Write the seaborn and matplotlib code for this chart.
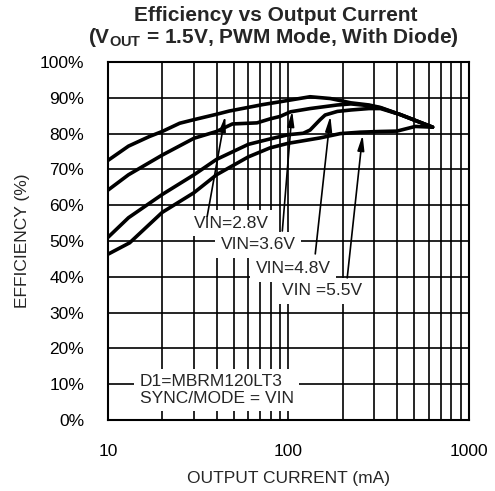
import pandas as pd
import seaborn as sns
import matplotlib.pyplot as plt

# efficiency curves (mA, %)
i_28 = [10, 13, 17, 20, 25, 30, 40, 47, 72, 90, 132, 171, 222, 280, 324, 418, 630]
e_28 = [72.5, 76.5, 79.2, 80.6, 82.9, 83.9, 85.4, 86.3, 88.1, 88.9, 90.3, 89.8, 88.6, 88.0, 87.3, 85.3, 81.8]

i_36 = [10, 13, 20, 30, 40, 49, 67, 79, 90, 103, 132, 187, 222, 280, 324, 418, 630]
e_36 = [64.2, 68.5, 74.0, 78.7, 80.6, 82.7, 83.0, 84.1, 84.8, 86.1, 87.0, 88.0, 88.3, 87.8, 87.2, 85.3, 81.8]

i_48 = [10, 13, 20, 30, 40, 60, 79, 100, 121, 132, 150, 160, 187, 222, 280, 324, 418, 630]
e_48 = [51.0, 56.5, 63.0, 68.5, 72.8, 77.0, 78.5, 79.7, 80.1, 81.0, 83.9, 85.2, 86.2, 86.6, 87.0, 87.0, 85.3, 81.8]

i_55 = [10, 13.2, 20, 30, 40, 60, 79, 100, 150, 194, 250, 324, 400, 505, 630]
e_55 = [46.3, 49.5, 58.0, 63.5, 68.5, 73.5, 76.0, 77.3, 78.8, 80.0, 80.4, 80.6, 80.7, 82.0, 81.8]

series = ['VIN=2.8V', 'VIN=3.6V', 'VIN=4.8V', 'VIN =5.5V']
currents = [i_28, i_36, i_48, i_55]
effs = [e_28, e_36, e_48, e_55]

# label text position, arrow tail, arrow tip (mA, %)
label_pos = [(48.2, 55.0), (68.1, 48.9), (106.7, 42.2), (154, 36.1)]
arrow_tail = [(35.5, 56.9), (92.6, 52.8), (141, 46.4), (212, 39.7)]
arrow_tip = [(44.7, 84.9), (105, 86.3), (171, 84.9), (258, 79.6)]

rows = []
for name, xs, ys in zip(series, currents, effs):
    for x, y in zip(xs, ys):
        rows.append({'VIN': name, 'Current': x, 'Efficiency': y})
df = pd.DataFrame(rows)

sns.set_style('white')
plt.rcParams['font.family'] = ['Liberation Sans', 'DejaVu Sans']
plt.rcParams['mathtext.default'] = 'regular'

fig = plt.figure(figsize=(4.95, 4.91), dpi=100)
ax = fig.add_axes([0.218, 0.1446, 0.729, 0.7291])

# grid first so the labels' white boxes can sit on top of it
for v in list(range(10, 100, 10)) + list(range(100, 1001, 100)):
    ax.axvline(v, color='black', lw=1.2, zorder=1)
for h in range(0, 101, 10):
    ax.axhline(h, color='black', lw=1.2, zorder=1)

sns.lineplot(data=df, x='Current', y='Efficiency', units='VIN', estimator=None,
             color='black', lw=2.6, ax=ax, zorder=3, sort=False)

ax.set_xscale('log')
ax.set_xlim(10, 1000)
ax.set_ylim(0, 100)
ax.set_xticks([10, 100, 1000])
ax.set_xticklabels(['10', '100', '1000'])
ax.set_xticks([], minor=True)
ax.set_yticks(range(0, 101, 10))
ax.set_yticklabels([f'{v}%' for v in range(0, 101, 10)])
ax.tick_params(axis='both', length=0, pad=17, labelsize=12.5, colors='black')
for s in ax.spines.values():
    s.set_color('black')
    s.set_linewidth(1.5)
    s.set_zorder(5)

ax.set_xlabel('OUTPUT CURRENT (mA)', fontsize=12.5, labelpad=9)
ax.set_ylabel('EFFICIENCY (%)', fontsize=12.5, labelpad=7)

for name, pos, tail, tip in zip(series, label_pos, arrow_tail, arrow_tip):
    ax.text(pos[0], pos[1], name, ha='center', va='center', fontsize=12.5, zorder=4,
            bbox=dict(facecolor='white', edgecolor='none', pad=4))
    ax.annotate('', xy=tip, xytext=tail, zorder=6,
                arrowprops=dict(arrowstyle='-|>,head_length=0.9,head_width=0.2',
                                color='black', lw=1.2, shrinkA=0, shrinkB=0))

ax.text(15.0, 8.4, 'D1=MBRM120LT3\nSYNC/MODE = VIN', ha='left', va='center',
        fontsize=12.5, linespacing=1.1, zorder=4,
        bbox=dict(facecolor='white', edgecolor='none', pad=4))

fig.text(0.558, 0.968, 'Efficiency vs Output Current', ha='center', va='center',
         fontsize=15, fontweight='bold')
fig.text(0.552, 0.923, r'($V_{OUT}$ = 1.5V, PWM Mode, With Diode)', ha='center',
         va='center', fontsize=15, fontweight='bold')

fig.savefig('out.png', dpi=100, facecolor='white')
